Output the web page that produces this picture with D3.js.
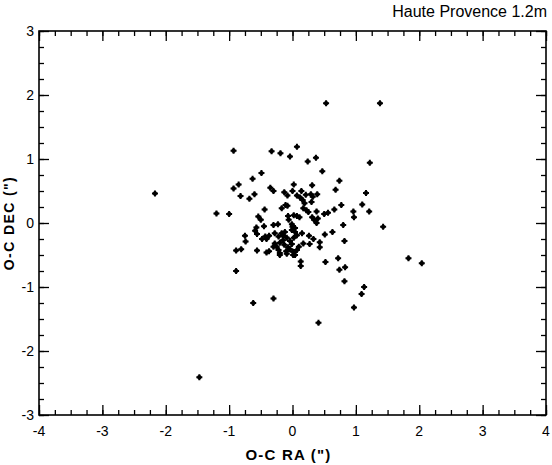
<!DOCTYPE html>
<html>
<head>
<meta charset="utf-8">
<script src="https://cdn.jsdelivr.net/npm/d3@7"></script>
<style>
  body { margin: 0; background: #fff; }
  text { font-family: "Liberation Sans", Arial, sans-serif; fill: #000; }
</style>
</head>
<body>
<div id="chart"></div>
<script>
// O-C residuals, arcsec
var raOC = [0.53, 1.38, 0.07, -0.93, -0.33, -0.19, -0.04, 0.37, 0.24, 1.22,
    0.47, -0.49, -0.63, 0.74, -0.85, -0.93, 0.02, 0.31, 0.68, -0.35,
    -0.30, 1.16, -0.60, -0.82, -0.68, -0.13, -0.08, 0.00, 0.14, 0.07,
    0.12, 0.16, 0.19, 0.21, 0.29, 0.32, 0.39, 0.30, -2.17, -1.20,
    -1.00, -0.44, -0.11, -0.08, -0.17, 0.17, 0.25, 0.38, 0.31, 0.34,
    0.40, 0.38, 0.50, 0.56, 0.66, 0.77, 0.96, 0.97, 1.10, 1.21,
    1.43, -0.54, -0.50, -0.45, -0.57, -0.59, -0.56, -0.75, -0.74, -0.89,
    -0.81, -0.56, -0.41, -0.37, -0.48, -0.41, -0.37, -0.30, -0.23, -0.07,
    0.02, 0.07, 0.11, -0.06, -0.01, 0.00, 0.15, 0.26, 0.33, 0.43,
    0.51, 0.63, 0.80, 0.82, 0.27, 0.43, 0.10, -0.20, -0.20, -0.09,
    0.01, 0.04, 0.13, 0.13, 0.52, 0.72, 0.74, 0.83, 0.82, 1.13,
    1.09, 0.97, 1.83, 2.04, -0.89, -0.62, -0.30, 0.41, -1.47, -0.43,
    -0.28, -0.22, -0.17, -0.12, -0.01, 0.04, 0.07, 0.17, -0.25, -0.22,
    0.01, 0.07, -0.15, -0.09, -0.04, -0.13, -0.07, -0.01, -0.10, -0.04,
    -0.15, 0.02, -0.20, 0.22, 0.04, -0.30, -0.28];
var decOC = [1.87, 1.87, 1.19, 1.13, 1.12, 1.09, 1.04, 1.02, 0.96, 0.94,
    0.81, 0.78, 0.69, 0.66, 0.60, 0.54, 0.60, 0.59, 0.52, 0.55,
    0.50, 0.47, 0.45, 0.42, 0.38, 0.48, 0.43, 0.50, 0.50, 0.43,
    0.40, 0.36, 0.31, 0.44, 0.45, 0.41, 0.45, 0.33, 0.46, 0.15,
    0.14, 0.21, 0.28, 0.27, 0.23, 0.23, 0.17, 0.18, 0.09, 0.05,
    0.07, 0.00, 0.14, 0.16, 0.21, 0.28, 0.18, 0.09, 0.29, 0.18,
    -0.06, 0.10, 0.05, -0.05, -0.07, -0.12, -0.17, -0.20, -0.29, -0.43,
    -0.41, -0.43, -0.46, -0.44, -0.25, -0.25, -0.20, -0.03, -0.02, 0.11,
    0.12, 0.11, 0.09, 0.05, -0.02, -0.06, -0.16, -0.20, -0.25, -0.30,
    -0.18, -0.14, -0.03, -0.28, -0.33, -0.38, -0.37, -0.47, -0.50, -0.48,
    -0.50, -0.50, -0.60, -0.67, -0.61, -0.55, -0.73, -0.69, -0.91, -1.00,
    -1.11, -1.32, -0.55, -0.63, -0.75, -1.25, -1.18, -1.56, -2.41, -0.21,
    -0.16, -0.21, -0.16, -0.14, -0.11, -0.14, -0.19, -0.32, -0.37, -0.42,
    -0.45, -0.42, -0.27, -0.23, -0.28, -0.34, -0.38, -0.33, -0.44, -0.41,
    -0.20, -0.23, -0.31, 0.20, -0.08, -0.37, -0.32];

var xTicks = [-4, -3, -2, -1, 0, 1, 2, 3, 4];
var yTicks = [-3, -2, -1, 0, 1, 2, 3];

var W = 552, H = 465;
var m = { left: 39, right: 546, top: 31, bottom: 415 };

var svg = d3.select("#chart").append("svg")
    .attr("width", W)
    .attr("height", H);

var x = d3.scaleLinear().domain([-4, 4]).range([m.left, m.right]);
var y = d3.scaleLinear().domain([-3, 3]).range([m.bottom, m.top]);

// minor ticks every 0.25, major every 1, all pointing inward
var minorX = d3.range(-4, 4.001, 0.25);
var minorY = d3.range(-3, 3.001, 0.25);

function inTicks(axis, pos, vals, len) {
    svg.append("g")
        .attr("transform", pos)
        .call(axis.tickValues(vals).tickSize(len).tickFormat(""))
        .call(function (g) { g.select(".domain").remove(); });
}
inTicks(d3.axisTop(x), "translate(0," + m.bottom + ")", minorX, 5);
inTicks(d3.axisTop(x), "translate(0," + m.bottom + ")", xTicks, 10);
inTicks(d3.axisBottom(x), "translate(0," + m.top + ")", minorX, 5);
inTicks(d3.axisBottom(x), "translate(0," + m.top + ")", xTicks, 10);
inTicks(d3.axisRight(y), "translate(" + m.left + ",0)", minorY, 5);
inTicks(d3.axisRight(y), "translate(" + m.left + ",0)", yTicks, 10);
inTicks(d3.axisLeft(y), "translate(" + m.right + ",0)", minorY, 5);
inTicks(d3.axisLeft(y), "translate(" + m.right + ",0)", yTicks, 10);

svg.selectAll(".tick line")
    .attr("stroke", "#000")
    .attr("stroke-width", 1.3);

// frame
svg.append("rect")
    .attr("x", m.left)
    .attr("y", m.top)
    .attr("width", m.right - m.left)
    .attr("height", m.bottom - m.top)
    .attr("fill", "none")
    .attr("stroke", "#000")
    .attr("stroke-width", 1.6);

// tick labels
svg.append("g").selectAll("text")
    .data(xTicks)
    .enter().append("text")
    .attr("x", function (d) { return x(d); })
    .attr("y", m.bottom + 21)
    .attr("text-anchor", "middle")
    .style("font-size", "14px")
    .text(function (d) { return d; });

svg.append("g").selectAll("text")
    .data(yTicks)
    .enter().append("text")
    .attr("x", m.left - 5)
    .attr("y", function (d) { return y(d) + 5; })
    .attr("text-anchor", "end")
    .style("font-size", "14px")
    .text(function (d) { return d; });

// points: small filled blob with a cross, like the plotted asterisks
var pts = svg.append("g").selectAll("g")
    .data(raOC.map(function (d, i) { return [d, decOC[i]]; }))
    .enter().append("g")
    .attr("transform", function (d) { return "translate(" + x(d[0]) + "," + y(d[1]) + ")"; });
pts.append("circle")
    .attr("r", 2.2)
    .attr("fill", "#000");
pts.append("path")
    .attr("d", d3.symbol().type(d3.symbolCross).size(20))
    .attr("fill", "#000");

// titles
svg.append("text")
    .attr("x", m.right + 1)
    .attr("y", 17)
    .attr("text-anchor", "end")
    .style("font-size", "16px")
    .text("Haute Provence 1.2m");

svg.append("text")
    .attr("x", (m.left + m.right) / 2 - 4)
    .attr("y", 460)
    .attr("text-anchor", "middle")
    .style("font-size", "15px")
    .style("font-weight", "bold")
    .style("letter-spacing", "1.2px")
    .text("O-C RA (\")");

svg.append("text")
    .attr("transform", "rotate(-90)")
    .attr("x", -(m.top + m.bottom) / 2)
    .attr("y", 14)
    .attr("text-anchor", "middle")
    .style("font-size", "14px")
    .style("font-weight", "bold")
    .style("letter-spacing", "1.4px")
    .text("O-C DEC (\")");
</script>
</body>
</html>
